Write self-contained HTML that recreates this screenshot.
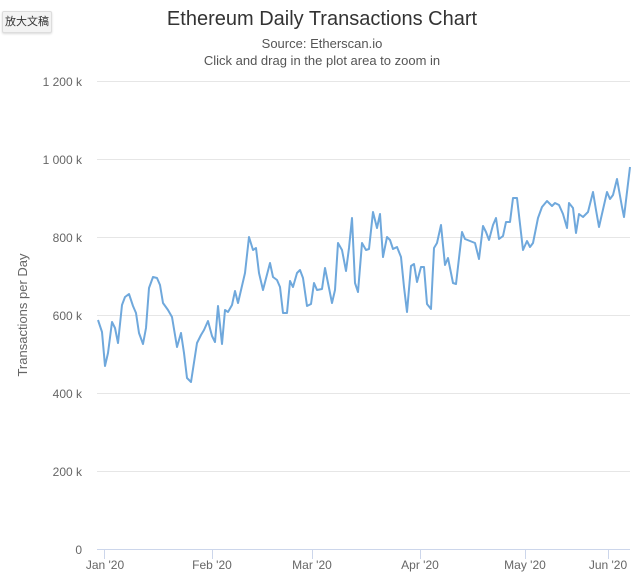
<!DOCTYPE html>
<html><head><meta charset="utf-8"><style>
html,body{margin:0;padding:0;background:#fff;width:640px;height:588px;overflow:hidden}
.btn{position:absolute;left:2px;top:11px;width:48px;height:20px;background:#f3f3f3;border:1px solid #ddd;border-radius:2px;box-shadow:0 1px 2px rgba(0,0,0,.15);font:11px "Liberation Sans","Noto Sans CJK SC",sans-serif;color:#333;text-align:center;line-height:20px}
</style></head><body>
<svg width="640" height="588" style="position:absolute;left:0;top:0" font-family="Liberation Sans, sans-serif">
<text x="322" y="25" text-anchor="middle" font-size="20" fill="#333">Ethereum Daily Transactions Chart</text>
<text x="322" y="48" text-anchor="middle" font-size="13" fill="#555">Source: Etherscan.io</text>
<text x="322" y="65" text-anchor="middle" font-size="13" fill="#555">Click and drag in the plot area to zoom in</text>
<g stroke="#e6e6e6" stroke-width="1">
<line x1="97" x2="630" y1="81.5" y2="81.5"/><line x1="97" x2="630" y1="159.5" y2="159.5"/>
<line x1="97" x2="630" y1="237.5" y2="237.5"/><line x1="97" x2="630" y1="315.5" y2="315.5"/>
<line x1="97" x2="630" y1="393.5" y2="393.5"/><line x1="97" x2="630" y1="471.5" y2="471.5"/>
</g>
<line x1="97" x2="630" y1="549.5" y2="549.5" stroke="#ccd6eb"/>
<g stroke="#ccd6eb"><line x1="104.5" x2="104.5" y1="549" y2="559"/><line x1="212.5" x2="212.5" y1="549" y2="559"/><line x1="312.5" x2="312.5" y1="549" y2="559"/><line x1="420.5" x2="420.5" y1="549" y2="559"/><line x1="525.5" x2="525.5" y1="549" y2="559"/><line x1="608.5" x2="608.5" y1="549" y2="559"/></g>
<g font-size="12" fill="#666" text-anchor="end">
<text x="82" y="86">1 200 k</text><text x="82" y="164">1 000 k</text><text x="82" y="242">800 k</text><text x="82" y="320">600 k</text><text x="82" y="398">400 k</text><text x="82" y="476">200 k</text><text x="82" y="554">0</text>
</g>
<g font-size="12" fill="#666" text-anchor="middle">
<text x="105" y="569">Jan '20</text><text x="212" y="569">Feb '20</text><text x="312" y="569">Mar '20</text><text x="420" y="569">Apr '20</text><text x="525" y="569">May '20</text><text x="608" y="569">Jun '20</text>
</g>
<text transform="translate(27,315) rotate(-90)" text-anchor="middle" font-size="13" fill="#666">Transactions per Day</text>
<polyline fill="none" stroke="#6fa8dc" stroke-width="2" stroke-linejoin="round" points="98,320 102,332 105,366 108,353 112,322 115,328 118,343 122,305 125,297 129,294 133,306 136,313 139,333 143,344 146,328 149,288 153,277 157,278 160,285 163,303 168,310 172,317 177,347 181,333 184,353 187,378 191,382 197,343 201,335 204,330 208,321 212,336 215,342 218,306 222,344 225,310 228,312 232,305 235,291 238,303 245,273 249,237 253,250 256,248 259,273 263,290 270,263 273,277 277,280 280,287 283,313 287,313 290,281 293,287 297,273 300,270 303,278 307,306 311,304 314,283 317,290 322,289 325,268 332,303 335,290 338,243 342,250 346,271 349,248 352,218 355,283 358,292 362,243 366,250 369,249 373,212 377,228 380,214 383,257 387,237 390,240 393,249 397,247 401,257 404,287 407,312 411,266 414,264 417,282 421,267 424,267 427,304 431,309 434,248 437,243 441,225 445,265 448,258 453,283 456,284 462,232 465,239 470,241 475,243 479,259 483,226 486,232 489,240 493,225 496,218 499,239 503,236 506,222 510,222 513,198 517,198 523,250 527,241 530,247 533,243 538,218 542,207 547,201 552,206 555,203 559,205 563,214 567,228 569,203 573,208 576,233 579,214 583,217 588,212 593,192 596,210 599,227 607,192 610,199 613,195 617,179 622,207 624,217 630,167"/>
</svg>
<div class="btn">放大文稿</div>
</body></html>
